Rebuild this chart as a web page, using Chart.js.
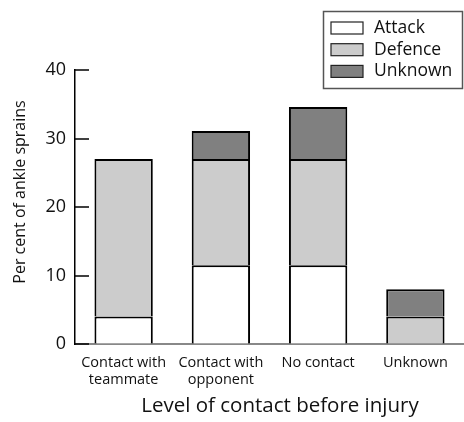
<!DOCTYPE html>
<html>
<head>
<meta charset="utf-8">
<script src="https://cdn.jsdelivr.net/npm/chart.js@4.4.0/dist/chart.umd.min.js"></script>
<style>
    html, body { margin: 0; padding: 0; background: #fff; }
</style>
</head>
<body>
<canvas id="chart" width="464" height="422"></canvas>
<script>
var categories = [['Contact with', 'teammate'], ['Contact with', 'opponent'], 'No contact', 'Unknown'];
var seriesNames = ['Attack', 'Defence', 'Unknown'];
var attack = [4, 11.5, 11.5, null];
var defence = [23, 15.5, 15.5, 4];
var unknown = [null, 4.1, 7.6, 4];
var yTicks = [0, 10, 20, 30, 40];
var xTitle = 'Level of contact before injury';
var yTitle = 'Per cent of ankle sprains';

;(function (window, document) {
    'use strict';

    var FONT = '"Open Sans", "DejaVu Sans", sans-serif';
    var fills = ['#ffffff', '#cccccc', '#808080'];
    var values = [attack, defence, unknown];

    /**
     * Inward y ticks, axis titles and the boxed legend.
     */
    var extras = {
        id: 'extras',
        afterDraw: function (chart) {
            var ctx = chart.ctx;
            var area = chart.chartArea;
            var y = chart.scales.y;

            ctx.save();

            // ticks point into the plot
            ctx.strokeStyle = '#000';
            ctx.lineWidth = 1.5;
            y.ticks.forEach(function (t) {
                var py = Math.round(y.getPixelForValue(t.value));
                ctx.beginPath();
                ctx.moveTo(area.left - 1, py);
                ctx.lineTo(area.left + 14, py);
                ctx.stroke();
            });

            // axis titles
            ctx.fillStyle = '#111';
            ctx.textAlign = 'center';
            ctx.textBaseline = 'middle';
            ctx.font = '20.5px ' + FONT;
            ctx.fillText(xTitle, 280, 406);

            ctx.save();
            ctx.translate(20, 192);
            ctx.rotate(-Math.PI / 2);
            ctx.font = '16px ' + FONT;
            ctx.fillText(yTitle, 0, 0);
            ctx.restore();

            // legend
            ctx.strokeStyle = '#555';
            ctx.lineWidth = 1.5;
            ctx.strokeRect(323.5, 11.5, 139, 77);

            ctx.font = '17.5px ' + FONT;
            ctx.textAlign = 'left';
            chart.data.datasets.forEach(function (ds, i) {
                var cy = 28 + i * 21.7;
                ctx.fillStyle = ds.backgroundColor;
                ctx.fillRect(331, cy - 6, 32, 12);
                ctx.strokeStyle = '#222';
                ctx.lineWidth = 1.2;
                ctx.strokeRect(331, cy - 6, 32, 12);
                ctx.fillStyle = '#111';
                ctx.fillText(ds.label, 374, cy);
            });

            ctx.restore();
        }
    };

    var datasets = seriesNames.map(function (name, i) {
        return {
            label: name,
            data: values[i],
            backgroundColor: fills[i],
            borderColor: '#000',
            borderWidth: 2,
            categoryPercentage: 1,
            barPercentage: 0.6
        };
    });

    new Chart(document.getElementById('chart'), {
        type: 'bar',
        data: {
            labels: categories,
            datasets: datasets
        },
        options: {
            responsive: false,
            animation: false,
            devicePixelRatio: 1,
            layout: {
                padding: {top: 70, right: 0, left: 0, bottom: 0}
            },
            plugins: {
                legend: {display: false},
                tooltip: {enabled: false}
            },
            scales: {
                x: {
                    stacked: true,
                    z: 1,
                    grid: {display: false},
                    border: {display: true, color: '#888', width: 2},
                    ticks: {
                        color: '#111',
                        padding: 3,
                        font: {family: FONT, size: 14.5, lineHeight: 1.15}
                    },
                    afterFit: function (scale) {
                        scale.height = 78;
                    }
                },
                y: {
                    stacked: true,
                    min: 0,
                    max: 40,
                    grid: {drawOnChartArea: false, drawTicks: false},
                    border: {display: true, color: '#000', width: 1.5},
                    ticks: {
                        color: '#111',
                        padding: 9,
                        font: {family: FONT, size: 18}
                    },
                    afterBuildTicks: function (scale) {
                        scale.ticks = yTicks.map(function (v) {
                            return {value: v};
                        });
                    },
                    afterFit: function (scale) {
                        scale.width = 75;
                    }
                }
            }
        },
        plugins: [extras]
    });

})(window, document);
</script>
</body>
</html>
